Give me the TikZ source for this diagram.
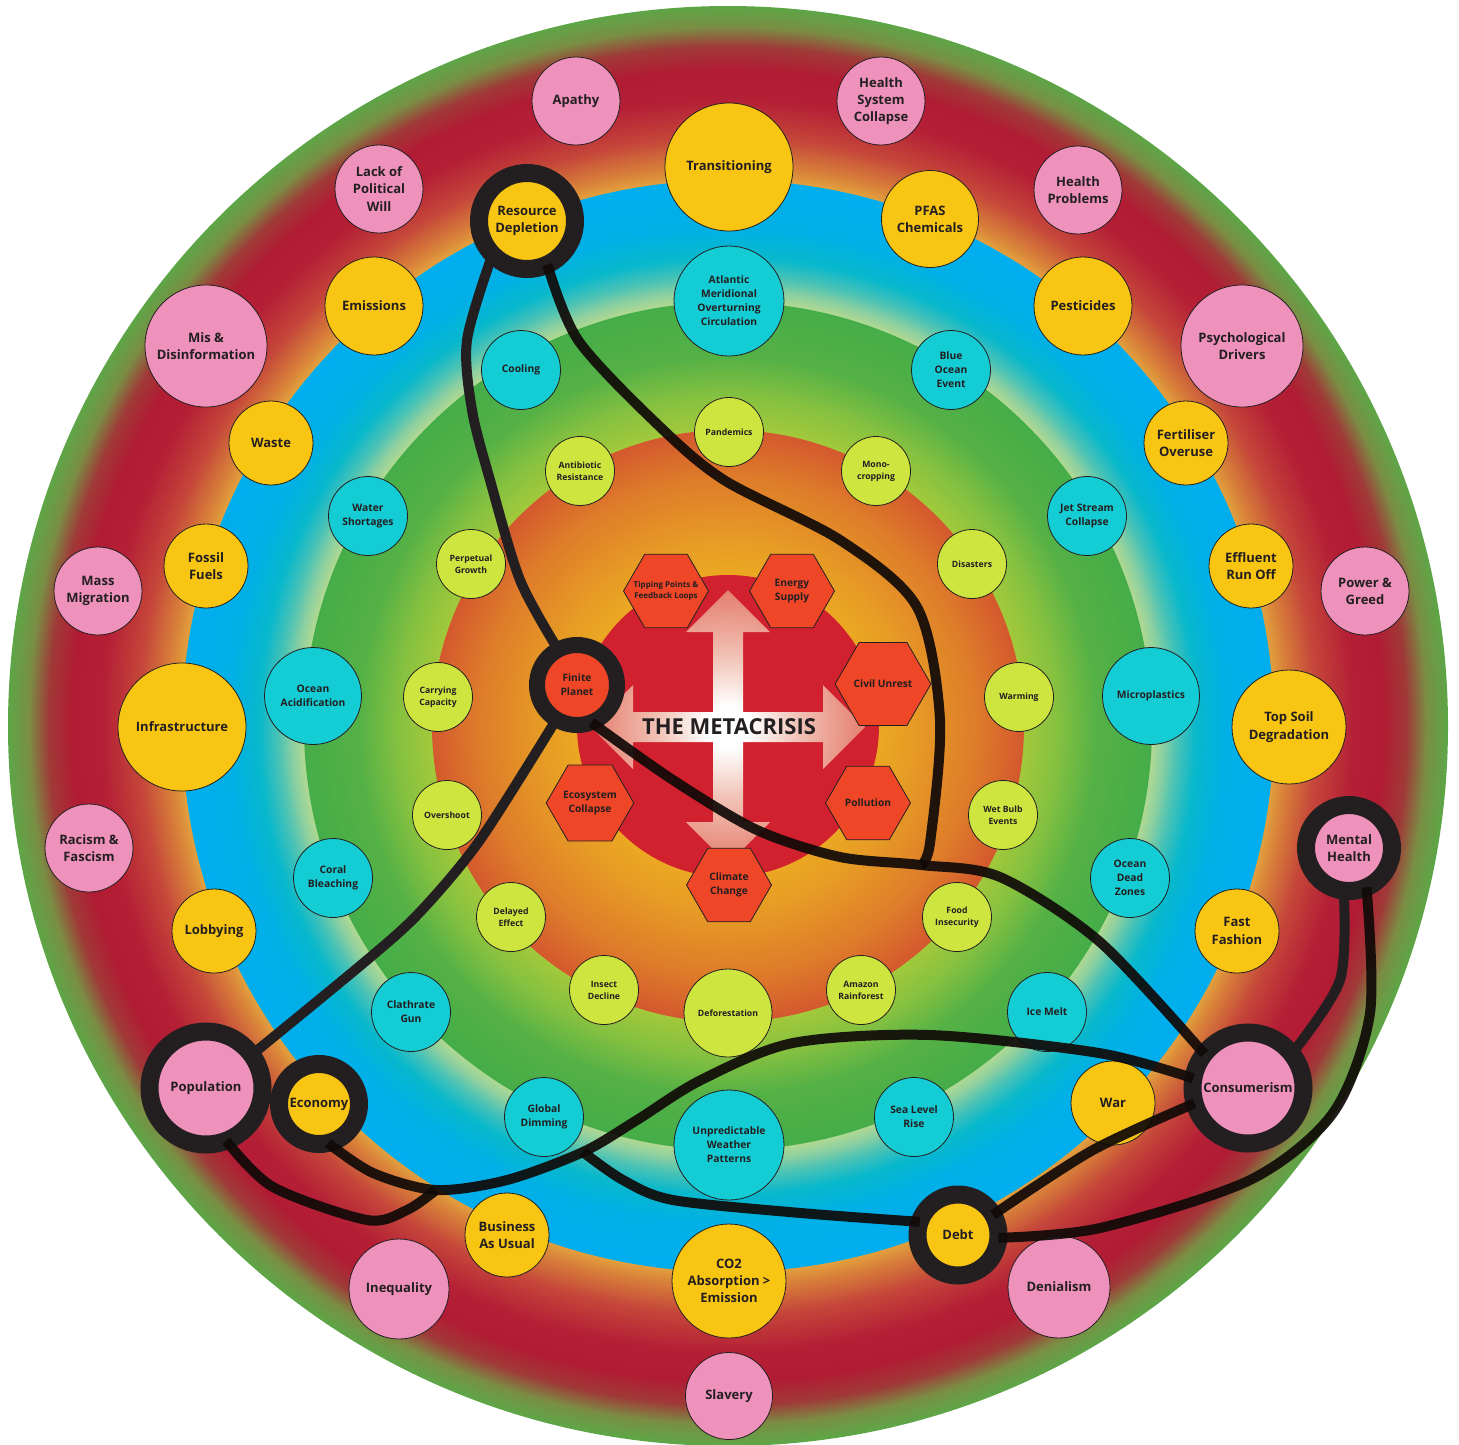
\documentclass[tikz,border=0pt]{standalone}
\usepackage{fontspec}
\setmainfont{Open Sans}
\usetikzlibrary{shapes.geometric}
\definecolor{inkc}{RGB}{35,31,32}
\definecolor{pinkc}{RGB}{238,145,187}
\definecolor{goldc}{RGB}{249,197,19}
\definecolor{cyanc}{RGB}{20,204,212}
\definecolor{limec}{RGB}{206,229,64}
\definecolor{hexc}{RGB}{238,70,39}
\definecolor{corec}{RGB}{210,33,46}
\definecolor{linkc}{RGB}{16,10,8}
% band colours, inside out
\definecolor{ob1}{HTML}{E3A23D}\definecolor{ob2}{HTML}{D9823A}\definecolor{ob3}{HTML}{C5463A}
\definecolor{ob4}{HTML}{B52036}\definecolor{ob5}{HTML}{B21B34}\definecolor{ob6}{HTML}{A03A38}
\definecolor{ob7}{HTML}{7A8E44}\definecolor{ob8}{HTML}{5EA547}
\definecolor{bb1}{HTML}{ADD893}\definecolor{bb2}{HTML}{8ED0A0}\definecolor{bb3}{HTML}{4DC3B5}
\definecolor{bb4}{HTML}{08B8CC}\definecolor{bb5}{HTML}{00B0E6}\definecolor{bb6}{HTML}{00AEEF}
\definecolor{gb1}{HTML}{A3C93B}\definecolor{gb2}{HTML}{86C140}\definecolor{gb3}{HTML}{55B146}\definecolor{gb4}{HTML}{45AD48}
\definecolor{rb1}{HTML}{EBA822}\definecolor{rb2}{HTML}{E69A25}\definecolor{rb3}{HTML}{DE7C2A}\definecolor{rb4}{HTML}{D4592E}
\definecolor{gl1}{HTML}{F2C4B8}\definecolor{gl2}{HTML}{E68878}\definecolor{gl3}{HTML}{D65050}
\pgfdeclareradialshading{crossglow}{\pgfpointorigin}{color(0bp)=(white); color(3.9bp)=(white); color(12.6bp)=(gl1); color(23.2bp)=(gl2); color(35.3bp)=(gl3); color(50bp)=(gl3)}
\newcommand\fbig{\fontsize{13}{17.3}\selectfont\bfseries}
\newcommand\fmid{\fontsize{10.3}{14}\selectfont\bfseries}
\newcommand\fsmall{\fontsize{8.7}{12}\selectfont\bfseries}
\newcommand\fhex{\fontsize{10.2}{14}\selectfont\bfseries}
\newcommand\ftiny{\fontsize{8}{10.7}\selectfont\bfseries}
\newcommand\ftitle{\fontsize{22}{26}\selectfont\bfseries}
\begin{document}
\begin{tikzpicture}[x=1pt, y=-1pt,
    bubble/.style={circle, draw=inkc, line width=0.8pt, inner sep=0pt, align=center, text=inkc},
    pinkb/.style={bubble, fill=pinkc, font=\fbig},
    goldb/.style={bubble, fill=goldc, font=\fbig},
    cyanb/.style={bubble, fill=cyanc, font=\fmid},
    limeb/.style={bubble, fill=limec, font=\fsmall},
    hexb/.style={regular polygon, regular polygon sides=6, minimum size=85pt, inner sep=0pt,
      draw=inkc, line width=0.8pt, fill=hexc, align=center, text=inkc, font=\fhex},
    hub/.style={circle, draw=inkc, line width=18pt, inner sep=0pt, outer sep=0pt,
      align=center, text=inkc, font=\fbig},
    link/.style={draw=inkc, line width=10pt},
    darklink/.style={draw=linkc, line width=10pt, opacity=0.92}]
  \useasboundingbox (0,0) rectangle (1459,1444);
  \fill[white] (0,0) rectangle (1459,1444);
  % concentric bands, blended in 2pt steps (outer radius/inner radius/outer colour/inner colour)
  \foreach \ra/\rb/\ca/\cb in {720/700/ob8/ob7, 700/680/ob7/ob6, 680/656/ob6/ob5, 656/626/ob5/ob4,
      626/590/ob4/ob3, 590/560/ob3/ob2, 560/546/ob2/ob1,
      546/500/bb6/bb5, 500/470/bb5/bb4, 470/450/bb4/bb3, 450/436/bb3/bb2, 436/426/bb2/bb1,
      424/370/gb4/gb3, 370/330/gb3/gb2, 330/296/gb2/gb1,
      296/250/rb4/rb3, 250/190/rb3/rb2, 190/152/rb2/rb1} {
    \pgfmathtruncatemacro\steps{(\ra-\rb)/2}
    \foreach \k in {0,...,\steps} {
      \pgfmathsetmacro\r{\ra-2*\k}
      \pgfmathtruncatemacro\t{100-100*\k/\steps}
      \fill[\ca!\t!\cb] (728,726) circle[radius=\r pt];
    }
  }
  % core with glowing cross
  \fill[corec] (728,726) circle[radius=151pt];
  \shade[shading=crossglow, shift={(728,727)}]
    (-15,-15) -- (-15,-95) -- (-42,-95) -- (0,-137) -- (42,-95) -- (15,-95) -- (15,-15)
    -- (95,-15) -- (95,-42) -- (137,0) -- (95,42) -- (95,15) -- (15,15)
    -- (15,95) -- (42,95) -- (0,137) -- (-42,95) -- (-15,95) -- (-15,15)
    -- (-95,15) -- (-95,42) -- (-137,0) -- (-95,-42) -- (-95,-15) -- cycle;
  \node[font=\ftitle, text=inkc] (title) at (729,727) {THE METACRISIS};
  % hexagons round the core
  \node[hexb, label={[font=\ftiny, align=center, text=inkc]center:Tipping Points \&\\Feedback Loops}] (tipping) at (666,591) {};
  \foreach \nm/\x/\y/\txt in {energy/792/591/{Energy\\Supply}, civil/883/684/{Civil Unrest},
      pollut/868/803/{Pollution}, climate/729/885/{Climate\\Change}, ecosys/590/803/{Ecosystem\\Collapse}}
    \node[hexb] (\nm) at (\x,\y) {\txt};
  % green band
  \foreach \nm/\x/\y/\dia/\txt in {pandem/729/432/69/{Pandemics}, antib/580/471/69/{Antibiotic\\Resistance},
      mono/876/471/69/{Mono-\\cropping}, perp/471/564/69/{Perpetual\\Growth},
      disast/972/564/69/{Disasters}, carry/438/697/69/{Carrying\\Capacity},
      warming/1019/697/69/{Warming}, oversh/447/815/69/{Overshoot},
      wetbulb/1003/815/69/{Wet Bulb\\Events}, delayed/511/917/69/{Delayed\\Effect},
      foodins/957/917/69/{Food\\Insecurity}, insect/604/990/69/{Insect\\Decline},
      amazon/861/990/69/{Amazon\\Rainforest}, defor/728/1013/88/{Deforestation}}
    \node[limeb, minimum size=\dia] (\nm) at (\x,\y) {\txt};
  % blue band
  \foreach \nm/\x/\y/\dia/\txt in {amoc/729/301/110/{Atlantic\\Meridional\\Overturning\\Circulation},
      cooling/521/370/79/{Cooling}, blueoe/951/370/79/{Blue\\Ocean\\Event},
      waters/368/516/79/{Water\\Shortages}, jetst/1087/516/79/{Jet Stream\\Collapse},
      oacid/313/696/97/{Ocean\\Acidification}, micro/1151/696/97/{Microplastics},
      coral/333/878/79/{Coral\\Bleaching}, deadz/1130/878/79/{Ocean\\Dead\\Zones},
      clath/411/1012/79/{Clathrate\\Gun}, icemelt/1047/1012/79/{Ice Melt},
      gdim/544/1117/79/{Global\\Dimming}, sealevel/914/1117/79/{Sea Level\\Rise},
      weather/729/1145/110/{Unpredictable\\Weather\\Patterns}}
    \node[cyanb, minimum size=\dia] (\nm) at (\x,\y) {\txt};
  % edge of the blue band
  \foreach \nm/\x/\y/\dia/\txt in {transit/729/167/128/{Transitioning}, pfas/930/219/97/{PFAS\\Chemicals},
      emis/374/306/98/{Emissions}, pestic/1083/306/98/{Pesticides},
      waste/271/443/84/{Waste}, fertil/1186/443/84/{Fertiliser\\Overuse},
      fossil/206/566/84/{Fossil\\Fuels}, effluent/1251/566/84/{Effluent\\Run Off},
      infra/182/727/128/{Infrastructure}, topsoil/1289/727/114/{Top Soil\\Degradation},
      lobby/214/931/84/{Lobbying}, fastf/1237/931/84/{Fast\\Fashion},
      war/1113/1103/84/{War}, bau/507/1235/84/{Business\\As Usual},
      co2/729/1281/114/{CO2\\Absorption >\\Emission}}
    \node[goldb, minimum size=\dia] (\nm) at (\x,\y) {\txt};
  % outer band
  \foreach \nm/\x/\y/\dia/\txt in {apathy/576/101/88/{Apathy}, hsyscol/881/101/88/{Health\\System\\Collapse},
      polwill/379/189/88/{Lack of\\Political\\Will}, healthp/1078/190/88/{Health\\Problems},
      misinfo/206/346/122/{Mis \&\\Disinformation}, psych/1242/346/122/{Psychological\\Drivers},
      massmig/98/591/88/{Mass\\Migration}, greed/1365/591/88/{Power \&\\Greed},
      racism/89/848/88/{Racism \&\\Fascism}, inequal/399/1289/100/{Inequality},
      denial/1059/1287/102/{Denialism}, slavery/729/1396/87/{Slavery}}
    \node[pinkb, minimum size=\dia] (\nm) at (\x,\y) {\txt};
  % ringed hubs
  \node[hub, fill=goldc, minimum size=96pt] (resdep) at (527,221) {Resource\\Depletion};
  \node[hub, fill=hexc, line width=16pt, minimum size=80pt, font=\fhex] (finite) at (577,685) {Finite\\Planet};
  \node[hub, fill=pinkc, minimum size=113pt] (population) at (206,1088) {Population};
  \node[hub, fill=goldc, minimum size=80pt] (economy) at (319,1104) {Economy};
  \node[hub, fill=pinkc, minimum size=111pt] (consumer) at (1248,1088) {Consumerism};
  \node[hub, fill=pinkc, minimum size=86pt] (mental) at (1349,848) {Mental\\Health};
  \node[hub, fill=goldc, minimum size=81pt] (debt) at (958,1235) {Debt};
  % links between hubs
  \coordinate (meet) at (921,865);
  \coordinate (popjoin) at (436,1190);
  \coordinate (dimjoin) at (583,1152);
  \draw[link] plot[smooth] coordinates {(resdep.224) (467,340) (472,410) (490,480) (520,580) (finite.118)};
  \draw[darklink] plot[smooth] coordinates {(resdep.295) (578,340) (656,423) (724,480) (840,540) (917,607) (940,720) (930,843) (meet)};
  \draw[link] plot[smooth] coordinates {(finite.239) (480,840) (420,912) (367,960) (population.36)};
  \draw[darklink] plot[smooth] coordinates {(finite.291) (673,780) (757,830) (840,857) (meet) (1000,877) (1100,942) (consumer.142)};
  \draw[darklink] plot[smooth] coordinates {(consumer.170) (1099,1053) (930,1035) (793,1043) (701,1080) (637,1120) (dimjoin) (507,1180) (popjoin) (373,1173) (economy.283)};
  \draw[darklink] plot[smooth] coordinates {(population.291) (273,1187) (367,1220) (407,1210) (popjoin)};
  \draw[darklink] plot[smooth] coordinates {(dimjoin) (623,1180) (673,1200) (801,1213) (debt.161)};
  \draw[darklink] plot[smooth] coordinates {(consumer.196) (1093,1150) (debt.30)};
  \draw[link] plot[smooth] coordinates {(mental.263) (1340,980) (consumer.38)};
  \draw[darklink] plot[smooth] coordinates {(mental.294) (1370,1013) (1333,1113) (1250,1180) (1100,1228) (debt.356)};
\end{tikzpicture}
\end{document}
